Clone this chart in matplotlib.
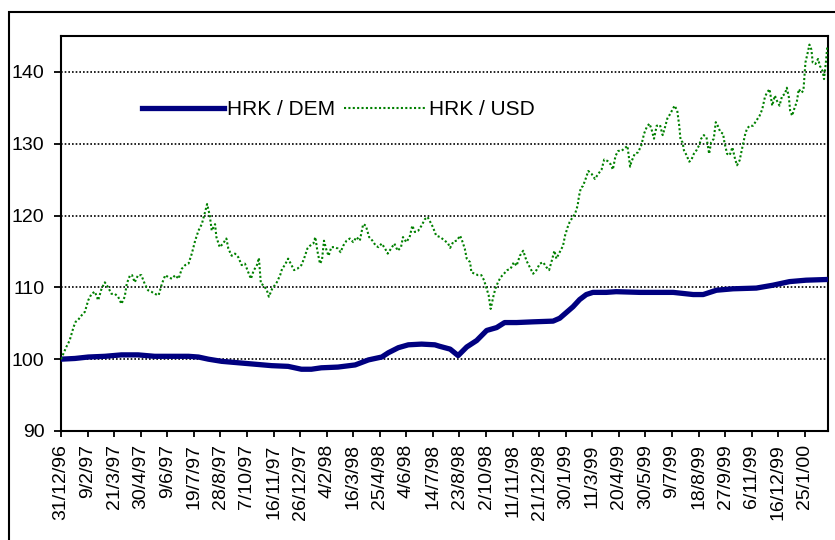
import pandas as pd
import matplotlib.pyplot as plt
from matplotlib.patches import Rectangle

plt.rcParams['font.family'] = ['Liberation Sans', 'DejaVu Sans']

# pocetni dan indeksa (31/12/96 = 100)
start = pd.Timestamp('1996-12-31')

# HRK / DEM - dani od pocetka i vrijednosti indeksa
dem_days = [0, 21, 41, 66, 91, 116, 141, 167, 192, 207, 222, 242, 267, 292, 317, 342,
            362, 377, 392, 417, 443, 463, 483, 493, 508, 523, 543, 563, 570, 586, 598,
            611, 626, 641, 656, 668, 686, 711, 741, 751, 761, 771, 781, 791, 801, 821,
            836, 872, 922, 952, 967, 987, 1012, 1047, 1072, 1097, 1122, 1155]
dem_vals = [100.0, 100.1, 100.3, 100.4, 100.6, 100.6, 100.4, 100.4, 100.4, 100.3, 100.0,
            99.7, 99.5, 99.3, 99.1, 99.0, 98.6, 98.6, 98.8, 98.9, 99.2, 99.9, 100.3, 100.9,
            101.6, 102.0, 102.1, 102.0, 101.8, 101.4, 100.5, 101.7, 102.6, 104.0, 104.4,
            105.1, 105.1, 105.2, 105.3, 105.7, 106.5, 107.3, 108.3, 109.0, 109.3, 109.3,
            109.4, 109.3, 109.3, 109.0, 109.0, 109.6, 109.8, 109.9, 110.3, 110.8, 111.0, 111.1]

# HRK / USD
usd_days = [0, 8, 13, 19, 22, 26, 31, 36, 41, 46, 51, 56, 61, 66, 71, 76, 81, 86, 91, 96,
            99, 104, 107, 111, 116, 121, 126, 131, 136, 141, 147, 152, 157, 162, 167, 172,
            177, 182, 187, 192, 197, 202, 207, 212, 217, 220, 224, 227, 232, 234, 239, 244,
            249, 252, 257, 262, 267, 272, 277, 282, 286, 290, 295, 298, 301, 305, 310, 313,
            318, 325, 330, 333, 337, 342, 346, 351, 356, 362, 366, 371, 375, 380, 383, 386,
            390, 393, 396, 400, 403, 407, 412, 417, 421, 425, 430, 435, 440, 445, 450, 455,
            459, 464, 469, 474, 478, 483, 488, 492, 497, 502, 507, 512, 515, 520, 525, 529,
            533, 538, 543, 548, 552, 555, 560, 565, 571, 578, 583, 586, 591, 596, 601, 604,
            608, 611, 616, 618, 623, 628, 633, 637, 641, 644, 647, 651, 654, 658, 662, 667,
            672, 677, 682, 686, 691, 696, 701, 706, 711, 716, 721, 726, 731, 735, 739, 743,
            746, 751, 756, 759, 763, 766, 770, 774, 778, 780, 783, 786, 790, 794, 799, 804,
            809, 814, 818, 823, 828, 831, 835, 839, 844, 849, 853, 857, 859, 864, 869, 874,
            878, 882, 886, 889, 893, 897, 902, 906, 909, 913, 917, 921, 924, 928, 931, 933,
            936, 938, 942, 946, 949, 953, 957, 961, 964, 968, 972, 976, 979, 983, 986, 989,
            993, 997, 999, 1003, 1007, 1011, 1015, 1018, 1022, 1026, 1030, 1033, 1037, 1042,
            1047, 1052, 1056, 1060, 1063, 1067, 1071, 1075, 1078, 1082, 1086, 1090, 1093,
            1096, 1098, 1101, 1105, 1108, 1111, 1115, 1118, 1120, 1121, 1125, 1127, 1130,
            1132, 1136, 1140, 1143, 1147, 1149, 1152, 1154]
usd_vals = [100.0, 101.7, 102.6, 104.5, 105.2, 105.5, 106.1, 106.6, 108.2, 109.1, 109.4,
            108.2, 109.8, 110.7, 110.0, 109.1, 109.1, 108.7, 107.7, 108.7, 110.5, 111.7,
            111.7, 110.7, 111.7, 111.7, 110.5, 109.6, 109.4, 109.1, 108.9, 110.5, 111.7,
            111.4, 111.2, 111.7, 111.2, 112.6, 113.1, 113.3, 114.7, 116.5, 117.9, 118.8,
            120.5, 121.6, 120.0, 117.9, 118.8, 117.0, 115.6, 116.1, 116.8, 115.4, 114.4,
            114.7, 114.2, 113.1, 113.3, 112.1, 111.2, 112.3, 113.1, 114.1, 110.5, 110.3,
            109.6, 108.7, 109.8, 110.7, 111.7, 112.6, 113.1, 114.0, 113.3, 112.4, 112.6,
            113.1, 114.0, 115.4, 115.8, 116.1, 117.0, 115.1, 113.3, 113.8, 116.5, 115.1,
            114.4, 115.6, 115.6, 115.4, 114.9, 115.8, 116.5, 116.8, 116.3, 117.0, 116.5,
            118.8, 118.6, 117.0, 116.5, 115.8, 115.6, 116.1, 115.4, 114.7, 115.4, 116.1,
            115.1, 115.6, 117.0, 116.3, 117.0, 118.6, 117.7, 117.9, 118.6, 119.5, 119.8,
            119.3, 118.4, 117.2, 117.0, 116.5, 116.1, 115.5, 116.4, 116.5, 117.2, 116.5,
            115.4, 114.0, 113.5, 112.1, 111.9, 111.7, 111.7, 111.0, 109.8, 108.9, 107.0,
            108.7, 109.8, 110.7, 111.4, 111.9, 112.4, 112.6, 113.5, 113.0, 114.4, 115.1,
            113.7, 112.8, 111.9, 112.4, 113.3, 113.5, 112.8, 112.4, 113.7, 115.1, 114.0,
            114.9, 115.8, 117.2, 118.4, 119.1, 119.7, 120.2, 121.4, 122.7, 123.9, 124.1,
            125.1, 126.2, 125.8, 125.1, 125.8, 126.4, 127.8, 127.6, 127.1, 126.4, 128.3,
            129.0, 129.0, 129.4, 129.7, 126.8, 127.5, 128.6, 128.8, 129.8, 131.4, 132.3,
            132.8, 132.1, 130.7, 132.5, 132.6, 131.2, 132.1, 133.5, 134.1, 134.8, 135.3,
            134.6, 132.5, 130.5, 130.2, 129.1, 128.4, 127.5, 127.7, 128.6, 129.1, 129.8,
            130.7, 131.2, 130.9, 128.6, 130.2, 130.7, 133.0, 132.5, 131.6, 131.4, 130.2,
            128.6, 128.4, 129.5, 127.9, 127.0, 127.7, 129.5, 131.2, 132.1, 132.5, 132.5,
            133.2, 133.9, 134.8, 136.5, 137.1, 137.6, 135.3, 136.7, 136.0, 135.3, 136.7,
            136.9, 137.8, 136.5, 134.6, 133.9, 135.1, 135.8, 137.6, 137.1, 137.4, 139.9,
            141.3, 142.9, 143.8, 143.1, 141.3, 141.1, 141.8, 140.8, 140.1, 139.0, 141.5, 143.6]

y_ticks = [90, 100, 110, 120, 130, 140]
tick_step = 40   # oznake na osi svakih 40 dana
n_ticks = 29

dem_dates = start + pd.to_timedelta(dem_days, unit='D')
usd_dates = start + pd.to_timedelta(usd_days, unit='D')
tick_dates = [start + pd.Timedelta(days=tick_step * k) for k in range(n_ticks)]
tick_labels = [f"{d.day}/{d.month}/{d.strftime('%y')}" for d in tick_dates]

fig = plt.figure(figsize=(8.35, 5.4), dpi=100)
ax = fig.add_axes([61 / 835, 1 - 431 / 540, (828 - 61) / 835, (431 - 36) / 540])

# okvir oko cijelog grafikona
fig.patches.append(Rectangle((9 / 835, -0.1), 1.2, 1 - 12 / 540 + 0.1, transform=fig.transFigure,
                             fill=False, edgecolor='black', linewidth=1.5))

ax.plot(dem_dates, dem_vals, color='#000080', linewidth=3.8, label='HRK / DEM', zorder=3)
ax.plot(usd_dates, usd_vals, color='#008000', linewidth=1.5, linestyle=(0, (1, 1.1)),
        label='HRK / USD', zorder=4)

ax.set_ylim(90, 145)
ax.set_xlim(start, start + pd.Timedelta(days=1155))
ax.set_yticks(y_ticks)
ax.set_xticks(tick_dates)
ax.set_xticklabels(tick_labels, rotation=90, fontsize=14)
ax.tick_params(axis='y', labelsize=14, length=5, width=1.3, pad=7)
ax.tick_params(axis='x', length=4.5, width=1.3, pad=5)
ax.yaxis.grid(True, color='black', linestyle=(0, (1, 1.2)), linewidth=1.2)
ax.set_axisbelow(True)
for s in ax.spines.values():
    s.set_linewidth(1.5)
    s.set_color('black')

ax.legend(loc='center left', bbox_to_anchor=(0.106, 0.813), ncol=2, frameon=False,
          fontsize=15, borderpad=0, borderaxespad=0, handlelength=3.9, handletextpad=0.15,
          columnspacing=0.45)

fig.savefig('out.png', dpi=100)
